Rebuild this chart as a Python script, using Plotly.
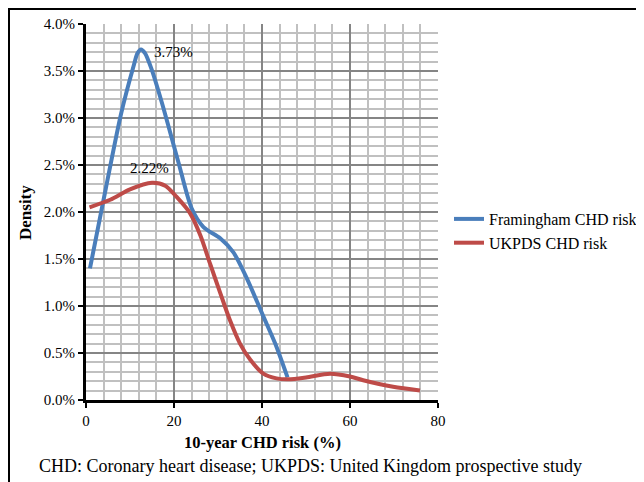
import plotly.graph_objects as go

# Framingham CHD risk (blue) (x in %, density as fraction)
fram_x = [0.9, 4.5, 8.0, 10.8, 11.7, 12.5, 13.4, 14.9, 17.2, 21.0, 24.0, 26.7, 30.5, 33.5, 36.5, 40.3, 43.0, 45.8]
fram_y = [0.0140, 0.0225, 0.0305, 0.0355, 0.0369, 0.0373, 0.0369, 0.0352, 0.0317, 0.0253, 0.0204, 0.0184, 0.0172, 0.0157, 0.0130, 0.0089, 0.0060, 0.0024]

# UKPDS CHD risk (red)
ukpds_x = [0.8, 5.5, 10.0, 15.0, 18.0, 20.6, 23.6, 26.0, 28.2, 30.5, 32.7, 35.0, 37.3, 40.3, 43.3, 46.0, 50.0, 55.5, 60.0, 63.0, 69.8, 75.9]
ukpds_y = [0.0205, 0.0213, 0.0224, 0.0231, 0.0228, 0.0216, 0.0199, 0.0175, 0.0145, 0.0114, 0.0085, 0.0060, 0.0043, 0.0028, 0.0023, 0.0022, 0.0024, 0.0028, 0.0025, 0.0021, 0.0014, 0.0010]

series_names = ["Framingham CHD risk", "UKPDS CHD risk"]
peak_labels = ["3.73%", "2.22%"]
x_ticks = [0, 20, 40, 60, 80]
y_ticks = [0.0, 0.005, 0.010, 0.015, 0.020, 0.025, 0.030, 0.035, 0.040]

FONT = "Liberation Serif"
BLUE = "#4a7ebb"
RED = "#be4b48"

fig = go.Figure()
fig.add_trace(go.Scatter(x=fram_x, y=fram_y, mode="lines", name=series_names[0],
                         line=dict(color=BLUE, width=4, shape="spline", smoothing=0.8),
                         legendgroup="a"))
fig.add_trace(go.Scatter(x=ukpds_x, y=ukpds_y, mode="lines", name=series_names[1],
                         line=dict(color=RED, width=4, shape="spline", smoothing=0.8),
                         legendgroup="b"))

OFF = 8  # page body margin
W, H = 636, 474
L, T = 86 - OFF, 24 - OFF
pw, ph = 352, 376
R, B = W - L - pw, H - T - ph


def px(xp):
    return (xp - OFF - L) / pw


def py(yp):
    return (T + ph - (yp - OFF)) / ph


def cx(xp):
    return (xp - OFF) / W


def cy(yp):
    return 1 - (yp - OFF) / H


fig.update_layout(
    width=W, height=H,
    margin=dict(l=L, r=R, t=T, b=B, autoexpand=False),
    paper_bgcolor="white", plot_bgcolor="white",
    font=dict(family=FONT, color="black", size=15),
    showlegend=True,
    legend=dict(x=cx(449), y=cy(202), xref="container", yref="container",
                xanchor="left", yanchor="top",
                font=dict(family=FONT, size=16), tracegroupgap=0,
                bgcolor="rgba(0,0,0,0)"),
    xaxis=dict(range=[0, 80], tickvals=x_ticks, ticktext=[str(v) for v in x_ticks],
               showline=True, linecolor="black", linewidth=3,
               ticks="outside", tickcolor="black", tickwidth=2, ticklen=5,
               showgrid=True, gridcolor="#858585", gridwidth=1.6,
               minor=dict(dtick=4, tick0=0, showgrid=True, gridcolor="#c0c0c0", gridwidth=1.6),
               zeroline=False, tickfont=dict(size=15)),
    yaxis=dict(range=[0, 0.04], tickvals=y_ticks, tickformat=".1%",
               showline=True, linecolor="black", linewidth=3,
               ticks="outside", tickcolor="black", tickwidth=2, ticklen=5,
               showgrid=True, gridcolor="#858585", gridwidth=1.6,
               minor=dict(dtick=0.001, tick0=0, showgrid=True, gridcolor="#c0c0c0", gridwidth=1.6),
               zeroline=False, tickfont=dict(size=15)),
    annotations=[
        dict(x=12.5, y=0.0373, xref="x", yref="y", text=peak_labels[0], showarrow=False,
             xanchor="left", yanchor="middle", xshift=11, yshift=-3, font=dict(size=15)),
        dict(x=14.4, y=0.0247, xref="x", yref="y", text=peak_labels[1], showarrow=False,
             xanchor="center", yanchor="middle", yshift=0, font=dict(size=15)),
        dict(x=px(262), y=py(442), xref="paper", yref="paper", text="<b>10-year CHD risk (%)</b>",
             showarrow=False, xanchor="center", yanchor="middle", font=dict(size=16.5)),
        dict(x=px(25), y=py(212), xref="paper", yref="paper", text="<b>Density</b>", textangle=-90,
             showarrow=False, xanchor="center", yanchor="middle", font=dict(size=17)),
        dict(x=px(37), y=py(466), xref="paper", yref="paper",
             text="CHD: Coronary heart disease; UKPDS: United Kingdom prospective study",
             showarrow=False, xanchor="left", yanchor="middle", font=dict(size=18)),
    ],
    shapes=[
        dict(type="rect", xref="paper", yref="paper", x0=px(9), y0=py(520), x1=px(680), y1=py(9),
             line=dict(color="black", width=2), fillcolor="rgba(0,0,0,0)", layer="below"),
    ],
)

fig.write_html("out.html")
